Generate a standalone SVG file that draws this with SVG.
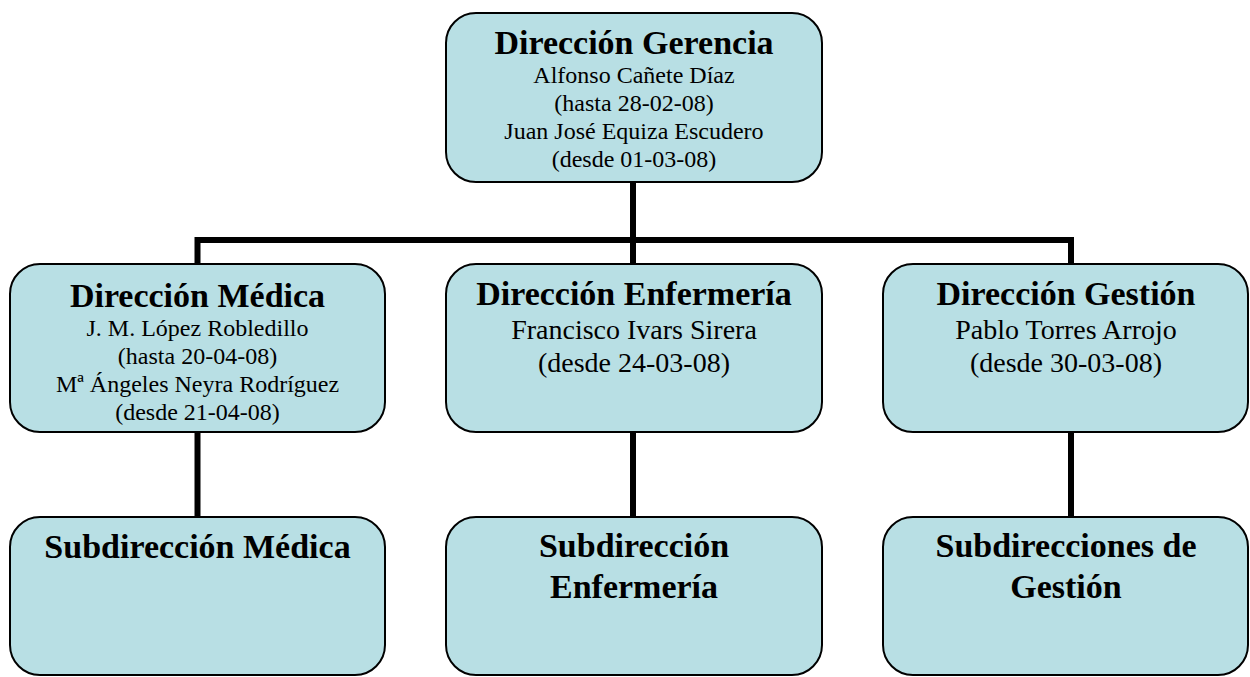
<svg xmlns="http://www.w3.org/2000/svg" width="1250" height="677" viewBox="0 0 1250 677">
<style>
.box{fill:#b8dfe4;stroke:#000;stroke-width:2}
.t{font-family:"Liberation Serif","Times New Roman",serif;font-weight:bold;font-size:34px;text-anchor:middle;fill:#000}
.s{font-family:"Liberation Serif","Times New Roman",serif;font-size:24px;text-anchor:middle;fill:#000}
.m{font-family:"Liberation Serif","Times New Roman",serif;font-size:28px;text-anchor:middle;fill:#000}
.c{stroke:#000;stroke-width:6;fill:none}
</style>
<rect width="1250" height="677" fill="#fff"/>
<g id="connectors">
<line class="c" x1="633" y1="182" x2="633" y2="264"/>
<polyline class="c" points="197.5,264 197.5,240 1071,240 1071,264"/>
<line class="c" x1="197.5" y1="432" x2="197.5" y2="517"/>
<line class="c" x1="633" y1="432" x2="633" y2="517"/>
<line class="c" x1="1071" y1="432" x2="1071" y2="517"/>
</g>
<g id="gerencia">
<rect class="box" x="446" y="13" width="376" height="169" rx="30"/>
<text class="t" x="634" y="54">Dirección Gerencia</text>
<text class="s" x="634" y="83">Alfonso Cañete Díaz</text>
<text class="s" x="634" y="111">(hasta 28-02-08)</text>
<text class="s" x="634" y="139">Juan José Equiza Escudero</text>
<text class="s" x="634" y="167">(desde 01-03-08)</text>
</g>
<g id="medica">
<rect class="box" x="10" y="264" width="375" height="168" rx="30"/>
<text class="t" x="197.5" y="307">Dirección Médica</text>
<text class="s" x="197.5" y="336">J. M. López Robledillo</text>
<text class="s" x="197.5" y="364">(hasta 20-04-08)</text>
<text class="s" x="197.5" y="392">Mª Ángeles Neyra Rodríguez</text>
<text class="s" x="197.5" y="420">(desde 21-04-08)</text>
</g>
<g id="enfermeria">
<rect class="box" x="446" y="264" width="376" height="168" rx="30"/>
<text class="t" x="634" y="305">Dirección Enfermería</text>
<text class="m" x="634" y="339">Francisco Ivars Sirera</text>
<text class="m" x="634" y="372">(desde 24-03-08)</text>
</g>
<g id="gestion">
<rect class="box" x="883" y="264" width="365" height="168" rx="30"/>
<text class="t" x="1066" y="305">Dirección Gestión</text>
<text class="m" x="1066" y="339">Pablo Torres Arrojo</text>
<text class="m" x="1066" y="372">(desde 30-03-08)</text>
</g>
<g id="submedica">
<rect class="box" x="10" y="517" width="375" height="158" rx="30"/>
<text class="t" x="197.5" y="558">Subdirección Médica</text>
</g>
<g id="subenfermeria">
<rect class="box" x="446" y="517" width="376" height="158" rx="30"/>
<text class="t" x="634" y="557">Subdirección</text>
<text class="t" x="634" y="598">Enfermería</text>
</g>
<g id="subgestion">
<rect class="box" x="883" y="517" width="365" height="158" rx="30"/>
<text class="t" x="1066" y="557">Subdirecciones de</text>
<text class="t" x="1066" y="598">Gestión</text>
</g>
</svg>
